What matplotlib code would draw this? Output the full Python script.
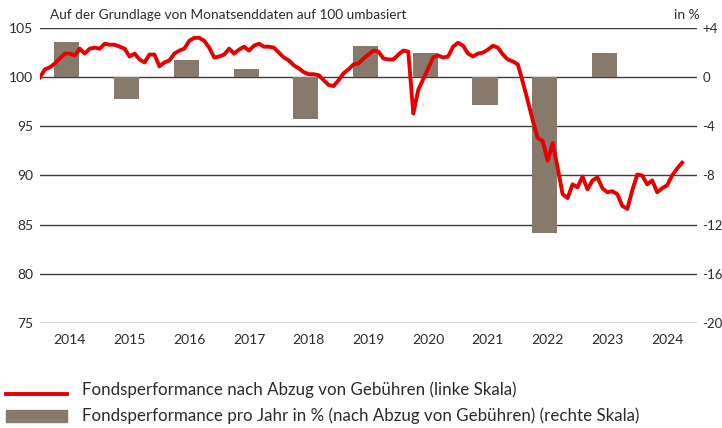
import numpy as np
import matplotlib.pyplot as plt
from matplotlib.lines import Line2D
from matplotlib.patches import Rectangle

plt.rcParams['font.family'] = ['Lato', 'DejaVu Sans']

# monatliche Werte, Basis 100 (Ende 2013 = 100)
perf_line = [
    100.0, 100.8, 101.0, 101.4, 101.9, 102.4, 102.4, 102.2, 102.9, 102.4, 102.9, 103.0, 102.9,
    103.4, 103.3, 103.3, 103.1, 102.9, 102.1, 102.4, 101.8, 101.5, 102.3, 102.3, 101.1,
    101.5, 101.7, 102.4, 102.7, 102.9, 103.7, 104.0, 104.0, 103.7, 103.0, 102.0, 102.1,
    102.3, 102.9, 102.4, 102.8, 103.1, 102.7, 103.2, 103.4, 103.1, 103.1, 103.0, 102.5,
    102.0, 101.7, 101.2, 100.9, 100.5, 100.3, 100.3, 100.2, 99.7, 99.2, 99.1, 99.7,
    100.4, 100.8, 101.3, 101.4, 101.9, 102.3, 102.7, 102.6, 101.9, 101.8, 101.8, 102.3,
    102.7, 102.6, 96.3, 98.7, 99.8, 100.9, 102.0, 102.2, 102.0, 102.1, 103.1, 103.5,
    103.2, 102.4, 102.1, 102.4, 102.5, 102.8, 103.2, 103.0, 102.3, 101.8, 101.6, 101.3,
    99.5, 97.6, 95.6, 93.8, 93.5, 91.5, 93.3, 90.8, 88.1, 87.7, 89.1, 88.8,
    89.9, 88.6, 89.5, 89.8, 88.7, 88.3, 88.4, 88.1, 86.9, 86.6, 88.5, 90.1,
    90.0, 89.1, 89.5, 88.3, 88.7, 89.0, 90.0, 90.7, 91.3,
]
months = 2014 + np.arange(len(perf_line)) / 12

years = [2014, 2015, 2016, 2017, 2018, 2019, 2020, 2021, 2022, 2023, 2024]
year_perf = [2.9, -1.8, 1.4, 0.7, -3.4, 2.5, 2.0, -2.3, -12.7, 2.0]

left_ticks = [75, 80, 85, 90, 95, 100, 105]
right_ticks = [-20, -16, -12, -8, -4, 0, 4]
right_labels = ["-20", "-16", "-12", "-8", "-4", "0", "+4"]

red = "#e60000"
brown = "#877a6c"
grid_col = "#3c3c3c"
txt_col = "#2a2a2a"

fig = plt.figure(figsize=(7.22, 4.28), dpi=100)
ax = fig.add_axes([40 / 722, 1 - 323 / 428, 657 / 722, 295 / 428])
ax2 = ax.twinx()

# Balken (rechte Skala) hinter der Linie
ax2.set_ylim(-20, 4)
for t in right_ticks:
    ax2.axhline(t, color=grid_col, lw=1.0, zorder=0)
ax2.bar(np.array(years[:len(year_perf)]) + 0.45, year_perf, width=0.42, color=brown, zorder=2)
ax2.set_yticks(right_ticks)
ax2.set_yticklabels(right_labels)

ax.set_zorder(ax2.get_zorder() + 1)
ax.patch.set_visible(False)
ax.plot(months, perf_line, color=red, lw=2.8, solid_joinstyle="round", zorder=3)
ax.set_ylim(75, 105)
ax.set_xlim(2014, 2025)
ax.set_yticks(left_ticks)
ax.set_xticks(np.array(years) + 0.5)
ax.set_xticklabels([str(y) for y in years])

for a in (ax, ax2):
    for s in a.spines.values():
        s.set_visible(False)
    a.tick_params(length=0, labelsize=10, colors=txt_col)
ax.tick_params(axis="y", pad=5)
ax.tick_params(axis="x", pad=8)
ax2.tick_params(axis="y", pad=4, labelsize=9.5)

fig.text(50 / 722, 1 - 15 / 428, "Auf der Grundlage von Monatsenddaten auf 100 umbasiert",
         fontsize=9.8, color=txt_col, va="center", ha="left")
fig.text(700 / 722, 1 - 15 / 428, "in %", fontsize=10, color=txt_col, va="center", ha="right")

# Legende
fig.add_artist(Line2D([6 / 722, 67 / 722], [1 - 394 / 428, 1 - 394 / 428], color=red, lw=2.8))
fig.add_artist(Rectangle((6 / 722, 1 - 422 / 428), 61 / 722, 12 / 428, color=brown))
fig.text(82 / 722, 1 - 390 / 428, "Fondsperformance nach Abzug von Gebühren (linke Skala)",
         fontsize=12.2, color=txt_col, va="center", ha="left")
fig.text(82 / 722, 1 - 416 / 428,
         "Fondsperformance pro Jahr in % (nach Abzug von Gebühren) (rechte Skala)",
         fontsize=12.2, color=txt_col, va="center", ha="left")

fig.savefig("out.png", dpi=100)
